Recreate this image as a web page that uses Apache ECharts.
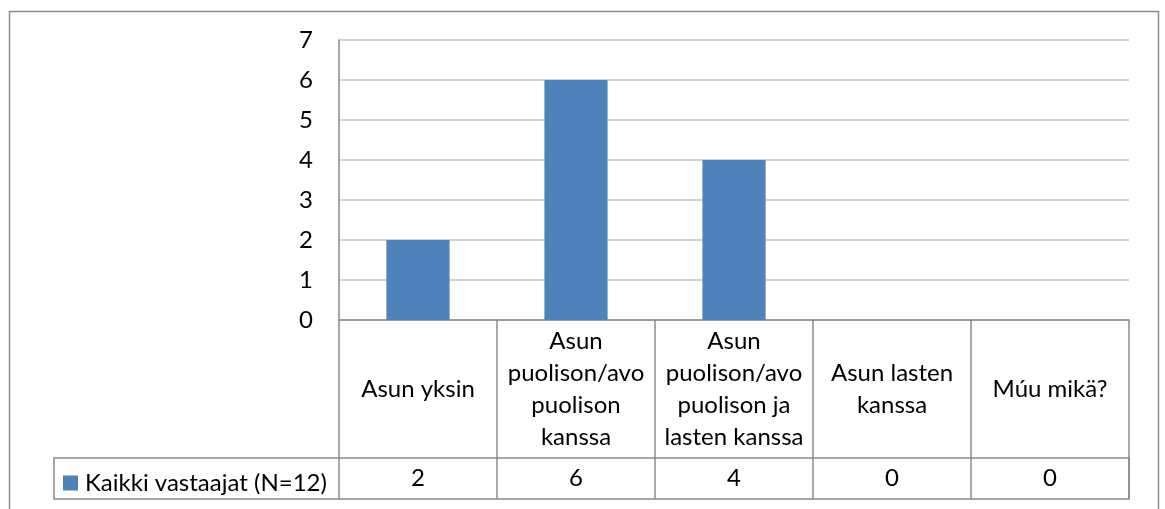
<!DOCTYPE html>
<html>
<head>
<meta charset="utf-8">
<script src="https://cdn.jsdelivr.net/npm/echarts@6/dist/echarts.min.js"></script>
<style>
  html, body { margin: 0; padding: 0; background: #fff; }
  #chart { width: 1165px; height: 509px; }
</style>
</head>
<body>
<div id="chart"></div>
<script>
// Living arrangement categories (line breaks as shown in the data table)
const categories = [
  'Asun yksin',
  'Asun\npuolison/avo\npuolison\nkanssa',
  'Asun\npuolison/avo\npuolison ja\nlasten kanssa',
  'Asun lasten\nkanssa',
  'Múu mikä?'
];
const seriesName = 'Kaikki vastaajat (N=12)';
const values = [2, 6, 4, 0, 0];
const yTicks = [0, 1, 2, 3, 4, 5, 6, 7];

const FONT = 'Lato, "Noto Sans", sans-serif';
const FS = 24;
const TEXT = '#000000';
const BORDER = '#8a8a8a';
const BLUE = '#4F81BD';

// Plot area
const G = { left: 339, right: 36, top: 40, bottom: 189 };
const W = 1165, H = 509;
const plotRight = W - G.right;
const baseY = H - G.bottom;     // value 0
const catRowH = 138;            // category-name row of the data table
const valRowH = 41;             // value row of the data table
const legendLeft = 54;

const chart = echarts.init(document.getElementById('chart'));
chart.setOption({
  animation: false,
  backgroundColor: '#ffffff',
  textStyle: { fontFamily: FONT },
  grid: G,
  legend: {
    data: [seriesName],
    left: 63,
    top: baseY + catRowH + 13,
    icon: 'rect',
    itemWidth: 15,
    itemHeight: 15,
    itemGap: 0,
    padding: 0,
    textStyle: { fontFamily: FONT, fontSize: FS, color: TEXT, padding: [0, 0, 0, 2] }
  },
  xAxis: [
    {
      // category names row
      type: 'category',
      data: categories,
      position: 'bottom',
      axisLine: { show: true, lineStyle: { color: BORDER, width: 1.5 } },
      axisTick: { show: true, length: catRowH + valRowH, lineStyle: { color: BORDER, width: 1.5 } },
      axisLabel: {
        interval: 0,
        margin: catRowH / 2,
        verticalAlign: 'middle',
        align: 'center',
        fontFamily: FONT,
        fontSize: FS,
        lineHeight: 32,
        color: TEXT
      },
      splitLine: { show: false }
    },
    {
      // values row of the data table
      type: 'category',
      data: categories,
      position: 'bottom',
      offset: catRowH,
      axisLine: { show: false },
      axisTick: { show: false },
      axisLabel: {
        interval: 0,
        margin: valRowH / 2,
        verticalAlign: 'middle',
        align: 'center',
        fontFamily: FONT,
        fontSize: FS,
        color: TEXT,
        formatter: (v, i) => String(values[i])
      }
    }
  ],
  yAxis: {
    type: 'value',
    min: yTicks[0],
    max: yTicks[yTicks.length - 1],
    interval: 1,
    axisLine: { show: true, lineStyle: { color: BORDER, width: 1.5 } },
    axisTick: { show: false },
    axisLabel: { margin: 26, fontFamily: FONT, fontSize: FS, color: TEXT },
    splitLine: { show: true, lineStyle: { color: '#c0c0c0', width: 1.5 } }
  },
  series: [
    {
      name: seriesName,
      type: 'bar',
      data: values,
      barWidth: '40%',
      itemStyle: { color: BLUE },
      xAxisIndex: 0
    }
  ],
  graphic: [
    // outer chart border (open at the bottom edge of the view)
    {
      type: 'rect',
      silent: true,
      shape: { x: 9.5, y: 11.5, width: 1149, height: 520 },
      style: { fill: null, stroke: '#8c8c8c', lineWidth: 1.5 }
    },
    // value row of the data table with the legend-key cell
    {
      type: 'rect',
      silent: true,
      shape: { x: legendLeft, y: baseY + catRowH, width: plotRight - legendLeft, height: valRowH },
      style: { fill: null, stroke: BORDER, lineWidth: 1.5 }
    }
  ]
});
</script>
</body>
</html>
